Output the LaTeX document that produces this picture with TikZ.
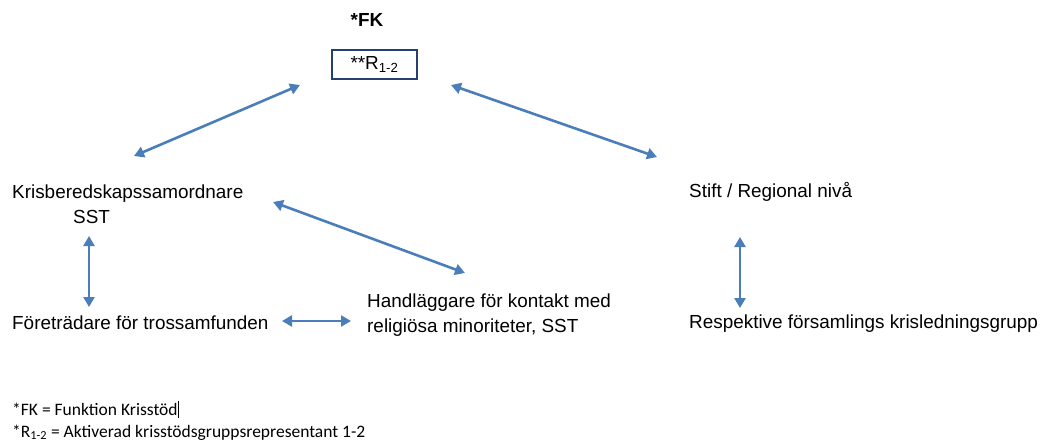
\documentclass[tikz,border=0pt]{standalone}
\usepackage{fontspec}
\setmainfont{Liberation Sans}
\newfontfamily\notefont{Carlito}
\usetikzlibrary{arrows.meta}
\definecolor{linkblue}{RGB}{74,126,187}
\definecolor{boxnavy}{RGB}{38,64,110}

\begin{document}
\begin{tikzpicture}[x=1pt, y=-1pt,
  txt/.style={inner sep=0pt, anchor=base west, font=\fontsize{18.9}{25}\selectfont},
  note/.style={inner sep=0pt, anchor=base west, font=\notefont\fontsize{17.5}{22}\selectfont},
  link/.style={linkblue, line width=2.6pt, {Triangle[length=10pt,width=11pt]}-{Triangle[length=10pt,width=11pt]}}]
\useasboundingbox (0,0) rectangle (1046,444);

% top
\node[inner sep=0pt, font=\bfseries\fontsize{18.9}{25}\selectfont] (fk) at (367,20) {*FK};
\node[draw=boxnavy, line width=2.4pt, minimum width=85pt, minimum height=29pt, inner sep=0pt,
  font=\fontsize{18.9}{25}\selectfont] (rep) at (374.5,64.5) {**R\textsubscript{1-2}};

% texts
\node[txt] (kris) at (12,198) {Krisberedskapssamordnare};
\node[txt] (krissst) at (73,223) {SST};
\node[txt] (stift) at (689,197) {Stift / Regional nivå};
\node[txt] (foretr) at (12,329) {Företrädare för trossamfunden};
\node[txt] (handl) at (367,307) {Handläggare för kontakt med};
\node[txt] (handl2) at (367,332) {religiösa minoriteter, SST};
\node[txt] (resp) at (689,328) {Respektive församlings krisledningsgrupp};

% arrow ends
\coordinate (a1) at (300,85);
\coordinate (a2) at (134,156);
\coordinate (b1) at (451,85);
\coordinate (b2) at (657,157);
\coordinate (c1) at (273,202);
\coordinate (c2) at (465,273);
\coordinate (d1) at (89,236);
\coordinate (d2) at (89,307);
\coordinate (e1) at (282,321);
\coordinate (e2) at (351,321);
\coordinate (f1) at (740,237);
\coordinate (f2) at (740,308);

\draw[link] (a1) -- (a2);
\draw[link] (b1) -- (b2);
\draw[link] (c1) -- (c2);
\draw[link] (d1) -- (d2);
\draw[link] (e1) -- (e2);
\draw[link] (f1) -- (f2);

% notes
\node[note] (n1) at (12,415) {*FK = Funktion Krisstöd\rule[-3pt]{0.7pt}{17pt}};
\node[note] (n2) at (12,437) {*R\textsubscript{1-2} = Aktiverad krisstödsgruppsrepresentant 1-2};
\end{tikzpicture}
\end{document}
